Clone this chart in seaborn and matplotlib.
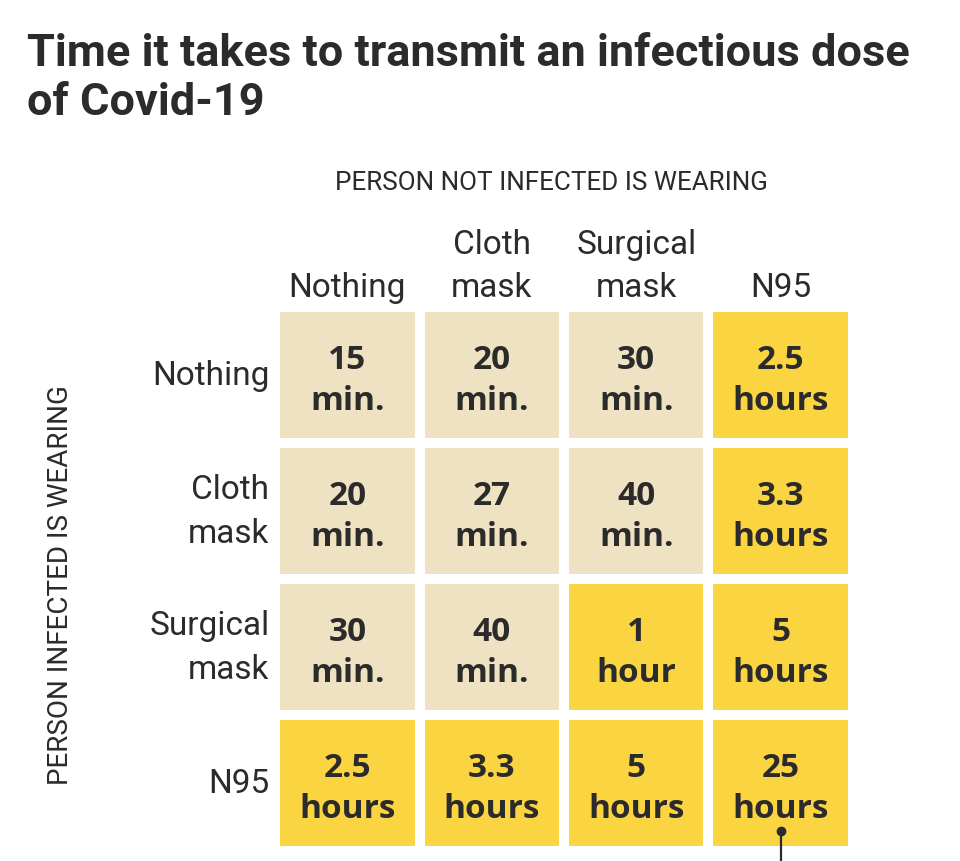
import numpy as np
import pandas as pd
import seaborn as sns
import matplotlib.pyplot as plt
from matplotlib.colors import ListedColormap

# who wears what, and how long it takes (minutes)
not_infected = ["Nothing", "Cloth\nmask", "Surgical\nmask", "N95"]
infected = ["Nothing", "Cloth\nmask", "Surgical\nmask", "N95"]
minutes = [
    [15, 20, 30, 150],
    [20, 27, 40, 198],
    [30, 40, 60, 300],
    [150, 198, 300, 1500],
]
labels = [
    ["15\nmin.", "20\nmin.", "30\nmin.", "2.5\nhours"],
    ["20\nmin.", "27\nmin.", "40\nmin.", "3.3\nhours"],
    ["30\nmin.", "40\nmin.", "1\nhour", "5\nhours"],
    ["2.5\nhours", "3.3\nhours", "5\nhours", "25\nhours"],
]

beige = "#eee2c3"
yellow = "#fbd442"
ink = "#2b2b2b"

df = pd.DataFrame(minutes, index=infected, columns=not_infected)
hour_or_more = (df >= 60).astype(int)

sns.set_theme(style="white")
plt.rcParams["font.family"] = ["Roboto", "DejaVu Sans"]

fig = plt.figure(figsize=(9.6, 8.62), dpi=100)
ax = fig.add_axes([275 / 960, 1 - 852 / 862, 578 / 960, 544 / 862])

sns.heatmap(hour_or_more, ax=ax, cmap=ListedColormap([beige, yellow]), vmin=0, vmax=1,
            cbar=False, linewidths=7.2, linecolor="white",
            annot=np.array(labels), fmt="",
            annot_kws={"size": 24, "weight": "bold", "color": ink,
                       "family": ["Open Sans", "DejaVu Sans"], "linespacing": 1.32})

# nudge the cell texts down a touch, as in the original
for t in ax.texts:
    x, y = t.get_position()
    t.set_position((x, y + 0.04))

ax.xaxis.tick_top()
ax.tick_params(length=0)
ax.set_xticklabels(not_infected, fontsize=24, fontweight="normal", color=ink,
                   va="bottom", ha="center", linespacing=1.45)
ax.set_yticklabels(infected, fontsize=24, fontweight="normal", color=ink,
                   rotation=0, ha="right", va="center", linespacing=1.45)
ax.tick_params(axis="x", pad=3)
ax.tick_params(axis="y", pad=4)
ax.set_xlabel("")
ax.set_ylabel("")

fig.text(551 / 960, 1 - 183 / 862, "PERSON NOT INFECTED IS WEARING", fontsize=18.7,
         fontweight="normal", color=ink, ha="center", va="center")
fig.text(61 / 960, 1 - 585 / 862, "PERSON INFECTED IS WEARING", fontsize=20,
         fontweight="normal", color=ink, ha="center", va="center", rotation=90)

fig.text(27 / 960, 1 - 33 / 862, "Time it takes to transmit an infectious dose\nof Covid-19",
         fontsize=32.5, fontweight="bold", color=ink, ha="left", va="top", linespacing=1.22)

# leader from the longest time cell
r, c = np.unravel_index(np.argmax(minutes), df.shape)
ax.plot([c + 0.5, c + 0.5], [r + 0.85, r + 1.2], color=ink, lw=1.6, clip_on=False)
ax.plot(c + 0.5, r + 0.85, "o", color=ink, ms=6, clip_on=False)

fig.savefig("out.png", dpi=100, facecolor="white")
